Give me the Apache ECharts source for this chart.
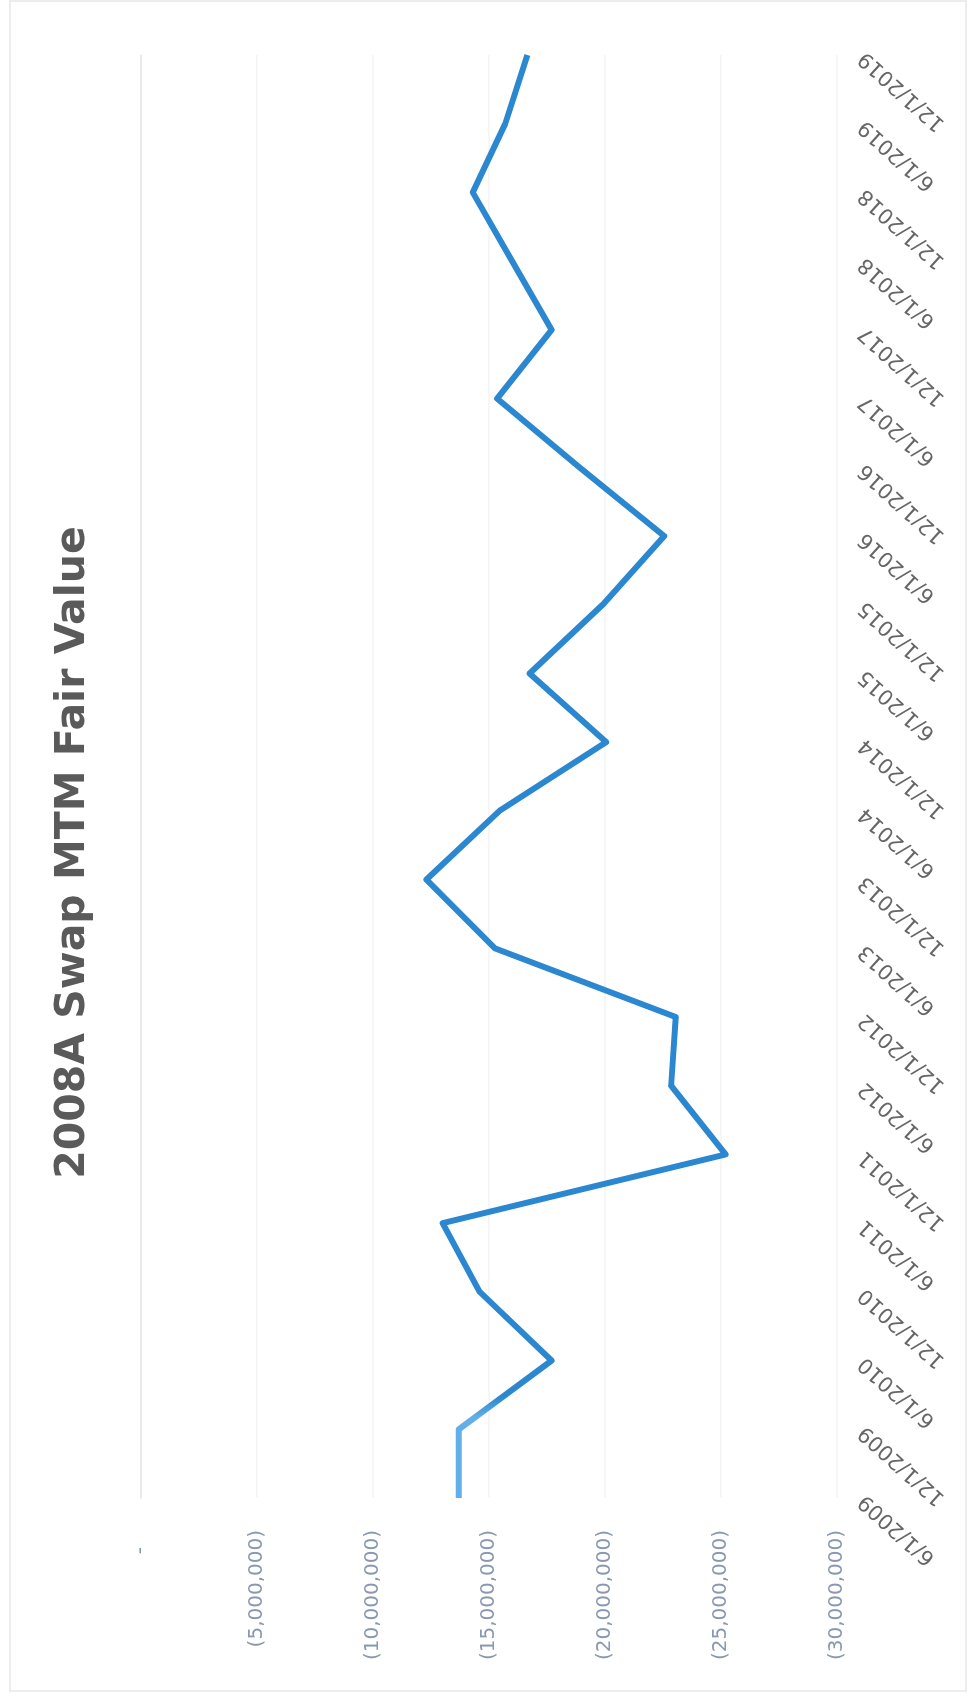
<!DOCTYPE html>
<html>
<head>
<meta charset="utf-8">
<script src="https://cdn.jsdelivr.net/npm/echarts@6/dist/echarts.min.js"></script>
<style>
  html, body { margin: 0; padding: 0; background: #fff; width: 975px; height: 1705px; overflow: hidden; }
  #frame { position: absolute; left: 9px; top: 0; width: 958px; height: 1692px; border: 2px solid #ededed; box-sizing: border-box; }
  /* the chart is laid out landscape and turned a quarter turn counter-clockwise */
  #chart { position: absolute; left: 0; top: 1705px; width: 1705px; height: 975px; transform-origin: 0 0; transform: rotate(-90deg); }
</style>
</head>
<body>
<div id="frame"></div>
<div id="chart"></div>
<script>
const chartTitle = '2008A Swap MTM Fair Value';

const dates = [
  '6/1/2009', '12/1/2009', '6/1/2010', '12/1/2010', '6/1/2011', '12/1/2011',
  '6/1/2012', '12/1/2012', '6/1/2013', '12/1/2013', '6/1/2014', '12/1/2014',
  '6/1/2015', '12/1/2015', '6/1/2016', '12/1/2016', '6/1/2017', '12/1/2017',
  '6/1/2018', '12/1/2018', '6/1/2019', '12/1/2019'
];

// mark-to-market fair value of the swap, USD
const fairValue = [
  -13700000, -13700000, -17700000, -14600000, -13000000, -25200000,
  -22850000, -23050000, -15250000, -12300000, -15450000, -20050000,
  -16750000, -19900000, -22550000, -18900000, -15350000, -17700000,
  -16000000, -14300000, -15700000, -16650000
];

const valueMin = -30000000;
const valueMax = 0;
const valueStep = 5000000;

function accounting(v) {
  if (v === 0) return '{z|-}';
  const s = Math.abs(v).toString().replace(/\B(?=(\d{3})+(?!\d))/g, ',');
  return v < 0 ? '(' + s + ')' : s;
}

const chart = echarts.init(document.getElementById('chart'), null, { renderer: 'canvas' });

chart.setOption({
  animation: false,
  backgroundColor: 'transparent',
  title: {
    text: chartTitle,
    left: 'center',
    top: 48,
    textStyle: { fontFamily: 'DejaVu Sans', fontSize: 41, fontWeight: 'bold', color: '#5a5a5a' }
  },
  grid: { left: 207, right: 55, top: 141, bottom: 138, containLabel: false },
  xAxis: {
    type: 'category',
    data: dates,
    boundaryGap: false,
    axisLine: { show: true, lineStyle: { color: '#e6e6e6', width: 1.5 } },
    axisTick: { show: false },
    splitLine: { show: false },
    axisLabel: {
      interval: 0,
      rotate: 48,
      margin: 25,
      fontFamily: 'DejaVu Sans',
      fontSize: 21,
      color: '#666666'
    }
  },
  yAxis: {
    type: 'value',
    min: valueMin,
    max: valueMax,
    interval: valueStep,
    axisLine: { show: false },
    axisTick: { show: false },
    splitLine: { show: true, lineStyle: { color: '#f3f3f3', width: 1.5 } },
    axisLabel: {
      margin: 32,
      fontFamily: 'DejaVu Sans',
      fontSize: 20,
      color: '#8898b0',
      formatter: accounting,
      rich: { z: { fontFamily: 'DejaVu Sans', fontSize: 20, color: '#8898b0', padding: [0, 17, 0, 0] } }
    }
  },
  series: [{
    type: 'line',
    data: fairValue,
    symbol: 'none',
    lineStyle: {
      width: 6,
      join: 'round',
      color: {
        type: 'linear', x: 0, y: 0, x2: 1, y2: 0,
        colorStops: [
          { offset: 0, color: '#62aee8' },
          { offset: 0.058, color: '#62aee8' },
          { offset: 0.072, color: '#2a87d0' },
          { offset: 1, color: '#2a87d0' }
        ]
      }
    }
  }]
});
</script>
</body>
</html>
